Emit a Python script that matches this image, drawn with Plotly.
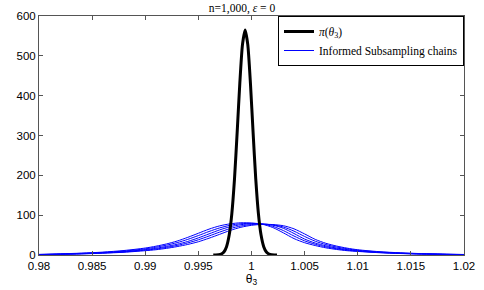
import plotly.graph_objects as go

# ---- data ----
theta_grid = [0.980, 0.982, 0.984, 0.986, 0.988, 0.990, 0.991, 0.992, 0.993, 0.994,
              0.995, 0.996, 0.997, 0.998, 0.999, 1.000, 1.001, 1.002, 1.003, 1.004,
              1.005, 1.006, 1.007, 1.008, 1.009, 1.010, 1.012, 1.014, 1.016, 1.018, 1.020]

chain1 = [1.5, 2.9, 4.7, 7.2, 11.3, 17.5, 22.1, 27.8, 35.0, 44.3,
          54.6, 64.9, 73.1, 78.3, 80.9, 80.3, 77.3, 69.0, 55.6, 41.2,
          30.9, 23.7, 18.0, 13.9, 10.8, 8.9, 5.8, 3.7, 2.3, 1.4, 0.8]
chain2 = [1.25, 2.45, 4.15, 6.4, 9.9, 15.5, 19.6, 24.7, 31.0, 39.2,
          48.8, 59.0, 68.0, 74.7, 78.5, 79.4, 77.7, 72.0, 61.3, 47.6,
          35.5, 26.9, 20.5, 15.7, 12.2, 9.7, 6.3, 4.05, 2.55, 1.55, 0.9]
chain3 = [1.0, 2.0, 3.6, 5.6, 8.5, 13.5, 17.0, 21.5, 27.0, 34.0,
          43.0, 53.0, 63.0, 71.0, 76.0, 78.5, 78.0, 75.0, 67.0, 54.0,
          40.0, 30.0, 23.0, 17.5, 13.5, 10.5, 6.8, 4.4, 2.8, 1.7, 1.0]
chain4 = [0.85, 1.75, 3.15, 5.05, 7.7, 12.2, 15.1, 19.1, 24.0, 30.3,
          38.2, 47.6, 57.5, 66.4, 72.8, 76.5, 77.5, 75.7, 70.3, 59.9,
          46.5, 34.6, 26.2, 20.0, 15.4, 11.9, 7.6, 4.95, 3.15, 1.95, 1.15]
chain5 = [0.7, 1.5, 2.7, 4.5, 6.9, 10.8, 13.2, 16.7, 21.1, 26.5,
          33.3, 42.1, 51.9, 61.7, 69.6, 74.5, 76.9, 76.4, 73.5, 65.7,
          52.9, 39.2, 29.4, 22.5, 17.2, 13.2, 8.4, 5.5, 3.5, 2.2, 1.3]
chains = [chain1, chain2, chain3, chain4, chain5]

theta_post = [0.9964, 0.99665, 0.9969, 0.99715, 0.9974, 0.99765, 0.9979, 0.99815,
              0.9984, 0.99865, 0.9989, 0.99915, 0.9994, 0.99965, 0.9999, 1.00015,
              1.0004, 1.00065, 1.0009, 1.00115, 1.0014, 1.00165, 1.0019, 1.00215, 1.0024]
post_density = [0, 0.15, 0.7, 2.4, 7.5, 21, 50, 104, 191, 308, 431, 528, 565,
                528, 431, 308, 191, 104, 50, 21, 7.5, 2.4, 0.7, 0.15, 0]

x_tickvals = [0.98, 0.985, 0.99, 0.995, 1.0, 1.005, 1.01, 1.015, 1.02]
x_ticktext = ["0.98", "0.985", "0.99", "0.995", "1", "1.005", "1.01", "1.015", "1.02"]
y_tickvals = [0, 100, 200, 300, 400, 500, 600]

fig = go.Figure()
for i, ch in enumerate(chains):
    fig.add_trace(go.Scatter(
        x=theta_grid, y=ch, mode="lines",
        line=dict(color="#0000FF", width=1, shape="spline", smoothing=0.8),
        name="Informed Subsampling chains",
        showlegend=(i == 0), legendrank=2,
    ))
fig.add_trace(go.Scatter(
    x=theta_post, y=post_density, mode="lines",
    line=dict(color="black", width=3, shape="spline", smoothing=0.6),
    name="<i>π</i>(<i>θ</i><sub>3</sub>)", legendrank=1,
))

axis_common = dict(
    showline=True, linecolor="#555555", linewidth=1, mirror="ticks",
    ticks="inside", ticklen=4, tickcolor="#555555", showgrid=False, zeroline=False,
    automargin=False,
    tickfont=dict(family="Liberation Sans, Arial, sans-serif", size=11.5, color="black"),
)

fig.update_layout(
    autosize=False,
    width=484, height=290,
    margin=dict(l=39, r=20, t=16, b=35, autoexpand=False),
    paper_bgcolor="white", plot_bgcolor="white",
    title=dict(text="n=1,000, <i>ε</i> = 0", x=0.5, xanchor="center", y=0.988, yanchor="top",
               automargin=False,
               font=dict(family="Liberation Serif, DejaVu Serif, serif", size=11.5, color="black")),
    xaxis=dict(range=[0.98, 1.02], tickvals=x_tickvals, ticktext=x_ticktext,
               title=dict(text="θ<sub>3</sub>", standoff=0,
                          font=dict(family="Liberation Sans, Arial, sans-serif", size=12, color="black")),
               **axis_common),
    yaxis=dict(range=[0, 600], tickvals=y_tickvals, **axis_common),
    legend=dict(x=1, xanchor="right", y=1, yanchor="top",
                bordercolor="black", borderwidth=1, bgcolor="white",
                font=dict(family="Liberation Serif, DejaVu Serif, serif", size=11.5, color="black"),
                tracegroupgap=0, itemwidth=30),
    showlegend=True,
)

fig.write_html("out.html",
               config={"displayModeBar": False, "responsive": False},
               post_script="document.body.style.margin='0px';document.body.style.overflow='hidden';")
